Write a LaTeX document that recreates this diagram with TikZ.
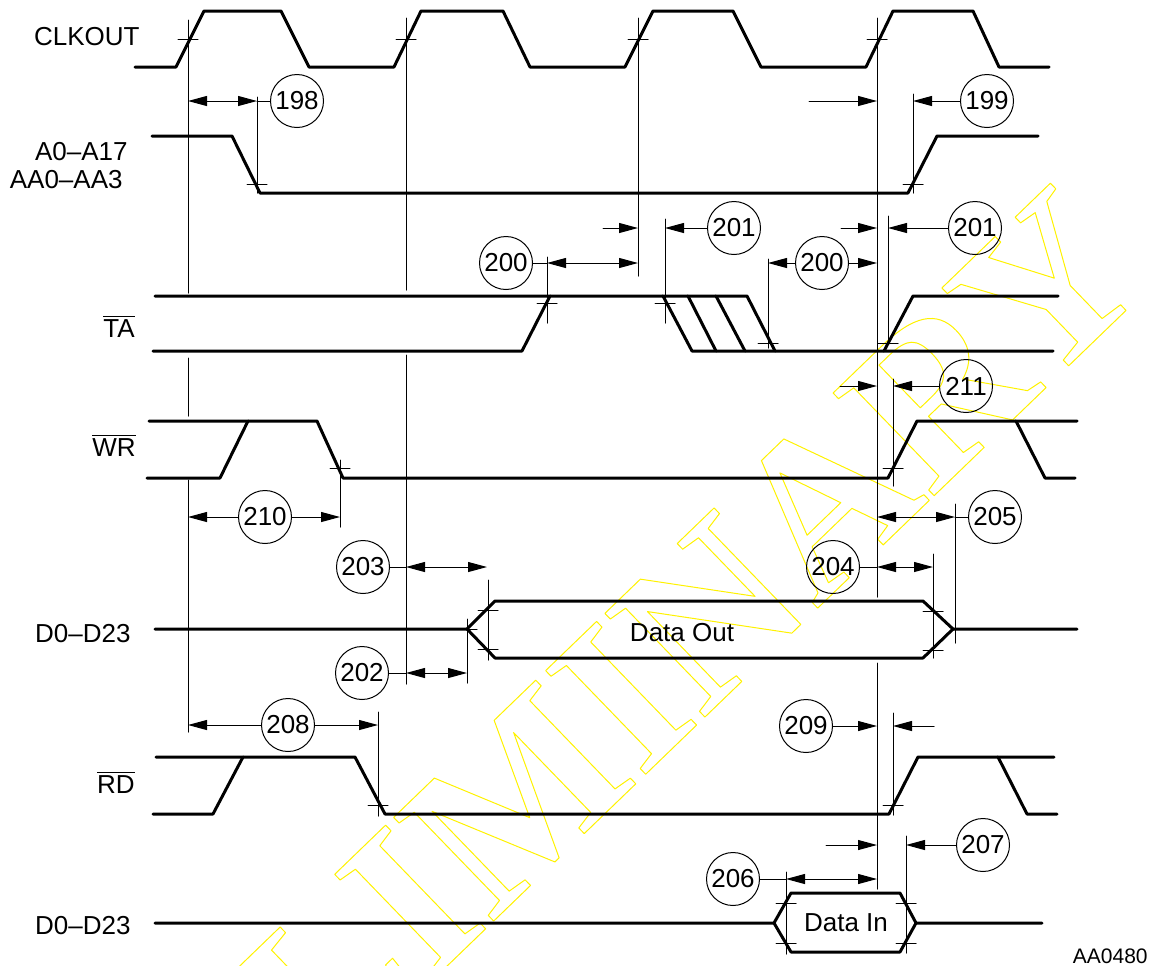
\documentclass[tikz,border=0pt]{standalone}
\usepackage{fontspec}
\setmainfont{Liberation Sans}
\newfontfamily\wmfont{Liberation Serif}
\usetikzlibrary{arrows.meta}

\newcommand{\ovl}[1]{$\overline{\mbox{#1}}$}
\newcommand{\outlinetext}[1]{\special{pdf:literal direct 1 Tr 0.5 w}#1\special{pdf:literal direct 0 Tr}}

\begin{document}
\begin{tikzpicture}[x=0.5pt,y=-0.5pt,line cap=round,line join=round,
		font=\fontsize{13}{15}\selectfont,
		>={Triangle[length=9.5pt,width=5pt]},
		sig/.style={line width=1.5pt},
		ref/.style={line width=0.5pt},
		num/.style={circle,draw,line width=0.5pt,minimum size=26.5pt,inner sep=0pt}]
			\useasboundingbox (0,0) rectangle (1151,965);
			% watermark
			\node[rotate=44,text=yellow,font=\wmfont\bfseries\fontsize{110}{120}\selectfont] (wm) at (530,785) {\outlinetext{PRELIMINARY}};
			% signal names
			\node[anchor=base east,inner sep=0] (lclk) at (140,45) {CLKOUT};
			\node[anchor=base east,inner sep=0] (ladr) at (128,160) {A0--A17};
			\node[anchor=base east,inner sep=0] (ladrb) at (123,188) {AA0--AA3};
			\node[anchor=base east,inner sep=0] (lta) at (135,337) {\ovl{TA}};
			\node[anchor=base east,inner sep=0] (lwr) at (136,456) {\ovl{WR}};
			\node[anchor=base east,inner sep=0] (ldo) at (131,642) {D0--D23};
			\node[anchor=base east,inner sep=0] (lrd) at (135,793) {\ovl{RD}};
			\node[anchor=base east,inner sep=0] (ldi) at (131,934) {D0--D23};
			\node[anchor=base east,inner sep=0,font=\fontsize{10.5}{12}\selectfont] (fig) at (1148,963) {AA0480};
			% waveforms
			\draw [sig] (135,67) -- (176,67) -- (204,11) -- (281,11) -- (309,67) -- (394,67) -- (421,11) -- (503,11) -- (530,67) -- (625,67) -- (653,11) -- (733,11) -- (761,67) -- (866,67) -- (893,11) -- (973,11) -- (999,67) -- (1049,67);
			\draw [sig] (152,136) -- (232,136) -- (260,193) -- (908,193) -- (937,136) -- (1038,136);
			\draw [sig] (155,296) -- (747,296) -- (775,351);
			\draw [sig] (153,351) -- (522,351) -- (550,296);
			\draw [sig] (663,296) -- (692,351) -- (1053,351);
			\draw [sig] (688,296) -- (716,351);
			\draw [sig] (716,296) -- (745,351);
			\draw [sig] (884,351) -- (913,296) -- (1058,296);
			\draw [sig] (149,421) -- (317,421) -- (343,478) -- (888,478) -- (917,421) -- (1077,421);
			\draw [sig] (147,478) -- (220,478) -- (248,421);
			\draw [sig] (1016,421) -- (1045,478) -- (1075,478);
			\draw [sig] (155,629) -- (467,629) -- (495,601) -- (923,601) -- (953,629) -- (1077,629);
			\draw [sig] (467,629) -- (495,658) -- (923,658) -- (953,629);
			\draw [sig] (156,757) -- (355,757) -- (385,814) -- (889,814) -- (918,757) -- (1054,757);
			\draw [sig] (153,814) -- (213,814) -- (243,757);
			\draw [sig] (998,757) -- (1027,814) -- (1057,814);
			\draw [sig] (155,923) -- (774,923) -- (791,893) -- (900,893) -- (916,923) -- (1042,923);
			\draw [sig] (774,923) -- (791,952) -- (900,952) -- (916,923);
			\node[anchor=base] (dout) at (682,641) {Data Out};
			\node[anchor=base] (din) at (846,931) {Data In};
			% reference lines
			\draw [ref] (188,20) -- (188,293);
			\draw [ref] (188,358) -- (188,416);
			\draw [ref] (188,480) -- (188,732);
			\draw [ref] (406,18) -- (406,290);
			\draw [ref] (406,355) -- (406,684);
			\draw [ref] (638,18) -- (638,276);
			\draw [ref] (877,18) -- (877,597);
			\draw [ref] (877,663) -- (877,889);
			\draw [ref] (257,97) -- (257,193);
			\draw [ref] (913,94) -- (913,193);
			\draw [ref] (547,257) -- (547,323);
			\draw [ref] (665,219) -- (665,323);
			\draw [ref] (768,259) -- (768,348);
			\draw [ref] (888,216) -- (888,343);
			\draw [ref] (893,379) -- (893,486);
			\draw [ref] (340,460) -- (340,527);
			\draw [ref] (488,580) -- (488,660);
			\draw [ref] (467,619) -- (467,683);
			\draw [ref] (933,554) -- (933,658);
			\draw [ref] (955,504) -- (955,643);
			\draw [ref] (378,712) -- (378,816);
			\draw [ref] (893,713) -- (893,815);
			\draw [ref] (906,836) -- (906,953);
			\draw [ref] (786,872) -- (786,954);
			% crossing ticks
			\foreach \x/\y in {188/39,406/39,638/39,877/39,257/184,913/184,547/303,665/303,768/343,888/343,340/468,893/468,488/610,488/649,467/629,933/611,933/650,378/805,893/805,786/903,786/943,906/903,906/943}
				\draw [ref] (\x-10,\y) -- (\x+10,\y);
			% timing numbers
			\node[num] (c198) at (297,101) {198};
			\node[num] (c199) at (987,101) {199};
			\node[num] (c200a) at (506,263) {200};
			\node[num] (c200b) at (822,263) {200};
			\node[num] (c201a) at (734,228) {201};
			\node[num] (c201b) at (975,228) {201};
			\node[num] (c211) at (966,386) {211};
			\node[num] (c210) at (265,517) {210};
			\node[num] (c205) at (995,517) {205};
			\node[num] (c203) at (363,567) {203};
			\node[num] (c204) at (833,567) {204};
			\node[num] (c202) at (362,673) {202};
			\node[num] (c208) at (288,725) {208};
			\node[num] (c209) at (806,726) {209};
			\node[num] (c207) at (983,845) {207};
			\node[num] (c206) at (733,879) {206};
			% dimension arrows
			\draw [<->,ref] (188,101) -- (257,101);
			\draw [ref] (257,101) -- (c198);
			\draw [->,ref] (809,101) -- (877,101);
			\draw [->,ref] (c199) -- (913,101);
			\draw [ref] (c200a) -- (547,263);
			\draw [<->,ref] (547,263) -- (638,263);
			\draw [->,ref] (c200b) -- (768,263);
			\draw [->,ref] (c200b) -- (877,263);
			\draw [->,ref] (603,228) -- (638,228);
			\draw [->,ref] (c201a) -- (665,228);
			\draw [->,ref] (841,228) -- (877,228);
			\draw [->,ref] (c201b) -- (888,228);
			\draw [->,ref] (840,386) -- (877,386);
			\draw [->,ref] (c211) -- (893,386);
			\draw [->,ref] (c210) -- (188,517);
			\draw [->,ref] (c210) -- (340,517);
			\draw [ref] (c203) -- (406,567);
			\draw [<->,ref] (406,567) -- (487,567);
			\draw [ref] (c204) -- (877,567);
			\draw [<->,ref] (877,567) -- (933,567);
			\draw [<->,ref] (877,517) -- (955,517);
			\draw [ref] (955,517) -- (c205);
			\draw [ref] (c202) -- (406,673);
			\draw [<->,ref] (406,673) -- (467,673);
			\draw [->,ref] (c208) -- (188,725);
			\draw [->,ref] (c208) -- (378,725);
			\draw [->,ref] (c209) -- (877,726);
			\draw [->,ref] (934,726) -- (893,726);
			\draw [->,ref] (826,845) -- (877,845);
			\draw [->,ref] (c207) -- (906,845);
			\draw [ref] (c206) -- (786,879);
			\draw [<->,ref] (786,879) -- (877,879);
\end{tikzpicture}
\end{document}
